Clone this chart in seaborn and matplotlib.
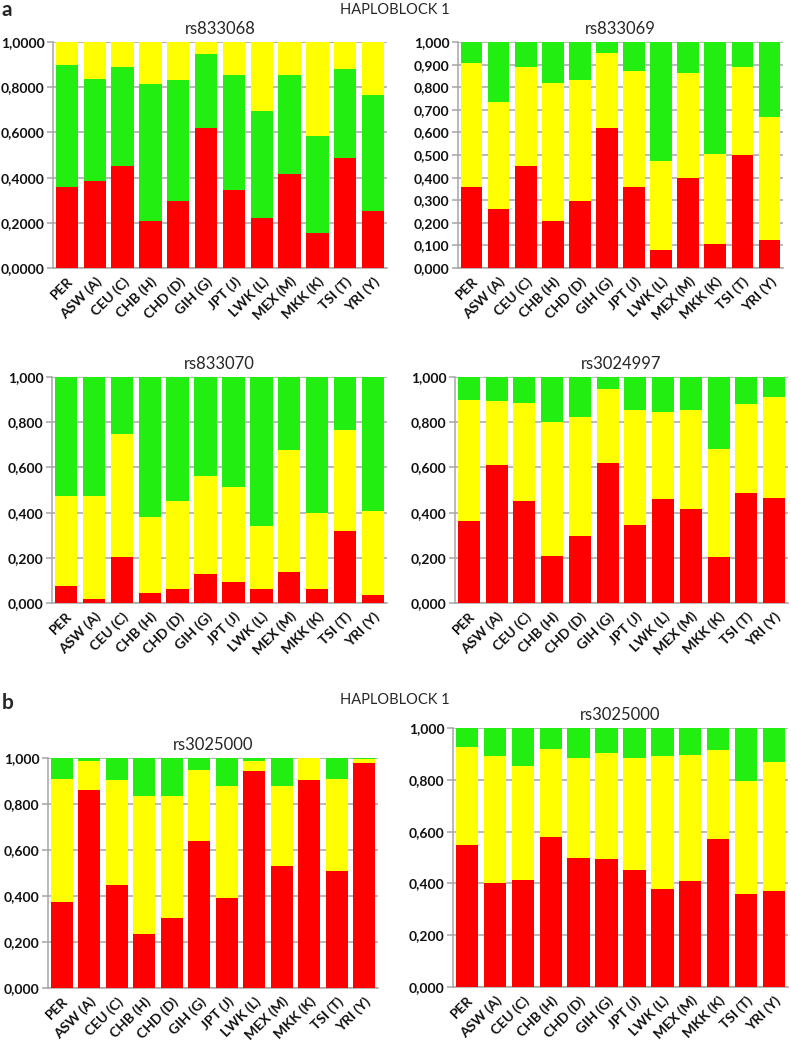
import numpy as np
import pandas as pd
import matplotlib
matplotlib.use("Agg")
import matplotlib.pyplot as plt
import seaborn as sns

sns.set_theme(style="white")
plt.rcParams['font.family'] = ['Lato', 'DejaVu Sans']

pops = ["PER", "ASW (A)", "CEU (C)", "CHB (H)", "CHD (D)", "GIH (G)",
        "JPT (J)", "LWK (L)", "MEX (M)", "MKK (K)", "TSI (T)", "YRI (Y)"]

RED = "#ff0000"
YEL = "#ffff00"
GRN = "#22ee11"

# bottom layer (red) and upper edge of the middle layer
rs833068_red = [0.36, 0.385, 0.45, 0.21, 0.295, 0.62, 0.345, 0.22, 0.415, 0.155, 0.485, 0.25]
rs833068_mid = [0.90, 0.835, 0.89, 0.815, 0.83, 0.945, 0.855, 0.695, 0.855, 0.585, 0.88, 0.765]

rs833069_red = [0.36, 0.26, 0.45, 0.21, 0.295, 0.62, 0.36, 0.08, 0.40, 0.105, 0.50, 0.125]
rs833069_mid = [0.905, 0.735, 0.89, 0.82, 0.83, 0.95, 0.87, 0.475, 0.865, 0.505, 0.89, 0.67]

rs833070_red = [0.075, 0.018, 0.205, 0.043, 0.062, 0.128, 0.095, 0.062, 0.135, 0.062, 0.32, 0.036]
rs833070_mid = [0.475, 0.475, 0.75, 0.38, 0.45, 0.56, 0.515, 0.34, 0.675, 0.40, 0.765, 0.405]

rs3024997_red = [0.365, 0.61, 0.45, 0.21, 0.295, 0.62, 0.345, 0.46, 0.415, 0.205, 0.485, 0.465]
rs3024997_mid = [0.90, 0.895, 0.885, 0.80, 0.825, 0.945, 0.855, 0.845, 0.855, 0.68, 0.88, 0.91]

rs3025000a_red = [0.375, 0.86, 0.45, 0.235, 0.305, 0.64, 0.39, 0.945, 0.53, 0.905, 0.51, 0.98]
rs3025000a_mid = [0.91, 0.985, 0.905, 0.835, 0.835, 0.95, 0.88, 0.985, 0.88, 1.0, 0.91, 0.995]

rs3025000b_red = [0.55, 0.40, 0.415, 0.58, 0.50, 0.495, 0.45, 0.38, 0.41, 0.57, 0.36, 0.37]
rs3025000b_mid = [0.925, 0.89, 0.855, 0.92, 0.885, 0.905, 0.885, 0.89, 0.895, 0.915, 0.795, 0.87]

total = [1.0] * len(pops)

panels = [
    # title, red, mid edge, mid colour, top colour, tick step, decimals, axes rect (px: left, right, top, bottom)
    ("rs833068", rs833068_red, rs833068_mid, GRN, YEL, 0.2, 4, (53, 387, 42, 268)),
    ("rs833069", rs833069_red, rs833069_mid, YEL, GRN, 0.1, 3, (458, 783, 42, 268)),
    ("rs833070", rs833070_red, rs833070_mid, YEL, GRN, 0.2, 3, (52, 387, 377, 603)),
    ("rs3024997", rs3024997_red, rs3024997_mid, YEL, GRN, 0.2, 3, (455, 788, 377, 603)),
    ("rs3025000", rs3025000a_red, rs3025000a_mid, YEL, GRN, 0.2, 3, (48, 378, 758, 988)),
    ("rs3025000", rs3025000b_red, rs3025000b_mid, YEL, GRN, 0.2, 3, (453, 788, 728, 987)),
]

W, H = 791, 1044
fig = plt.figure(figsize=(W / 100, H / 100), dpi=100)

for title, red, mid, mid_col, top_col, step, dec, (l, r, t, b) in panels:
    ax = fig.add_axes([l / W, 1 - b / H, (r - l) / W, (b - t) / H])
    df = pd.DataFrame({"pop": pops, "red": red, "mid": mid, "top": total})
    ax.set_axisbelow(True)
    ticks = np.round(np.arange(0, 1.0001, step), 3)
    for v in ticks:
        ax.axhline(v, color="#a6a6a6", lw=1.1, zorder=0)
    sns.barplot(data=df, x="pop", y="top", color=top_col, width=0.8,
                saturation=1, edgecolor="none", ax=ax, zorder=2)
    sns.barplot(data=df, x="pop", y="mid", color=mid_col, width=0.8,
                saturation=1, edgecolor="none", ax=ax, zorder=3)
    sns.barplot(data=df, x="pop", y="red", color=RED, width=0.8,
                saturation=1, edgecolor="none", ax=ax, zorder=4)
    ax.set_xlim(-0.5, len(pops) - 0.5)
    ax.set_ylim(0, 1.0)
    ax.set_yticks(ticks)
    ax.set_yticklabels([f"{v:.{dec}f}".replace(".", ",") for v in ticks],
                       fontsize=10, color="#111111", fontweight="bold")
    ax.set_xticks(range(len(pops)))
    ax.set_xticklabels(pops, rotation=45, ha="right", rotation_mode="anchor",
                       fontsize=10, color="#111111", fontweight="bold")
    ax.set_xticks(np.arange(-0.5, len(pops)), minor=True)
    ax.tick_params(axis="x", which="major", length=0, pad=5)
    ax.tick_params(axis="x", which="minor", length=4, color="#a6a6a6", width=1.1)
    ax.tick_params(axis="y", length=4, color="#a6a6a6", width=1.1, pad=2, left=True)
    ax.set_xlabel("")
    ax.set_ylabel("")
    for s in ["top", "right"]:
        ax.spines[s].set_visible(False)
    for s in ["left", "bottom"]:
        ax.spines[s].set_color("#a6a6a6")
        ax.spines[s].set_linewidth(1.1)
    ax.set_title(title, fontsize=12, pad=6)

fig.text(2 / W, 1 - 10 / H, "a", fontsize=15, fontweight="bold", va="center")
fig.text(395 / W, 1 - 10 / H, "HAPLOBLOCK 1", fontsize=10.5, ha="center", va="center")
fig.text(2 / W, 1 - 703 / H, "b", fontsize=15, fontweight="bold", va="center")
fig.text(395 / W, 1 - 700 / H, "HAPLOBLOCK 1", fontsize=10.5, ha="center", va="center")

fig.savefig("out.png", dpi=100)
